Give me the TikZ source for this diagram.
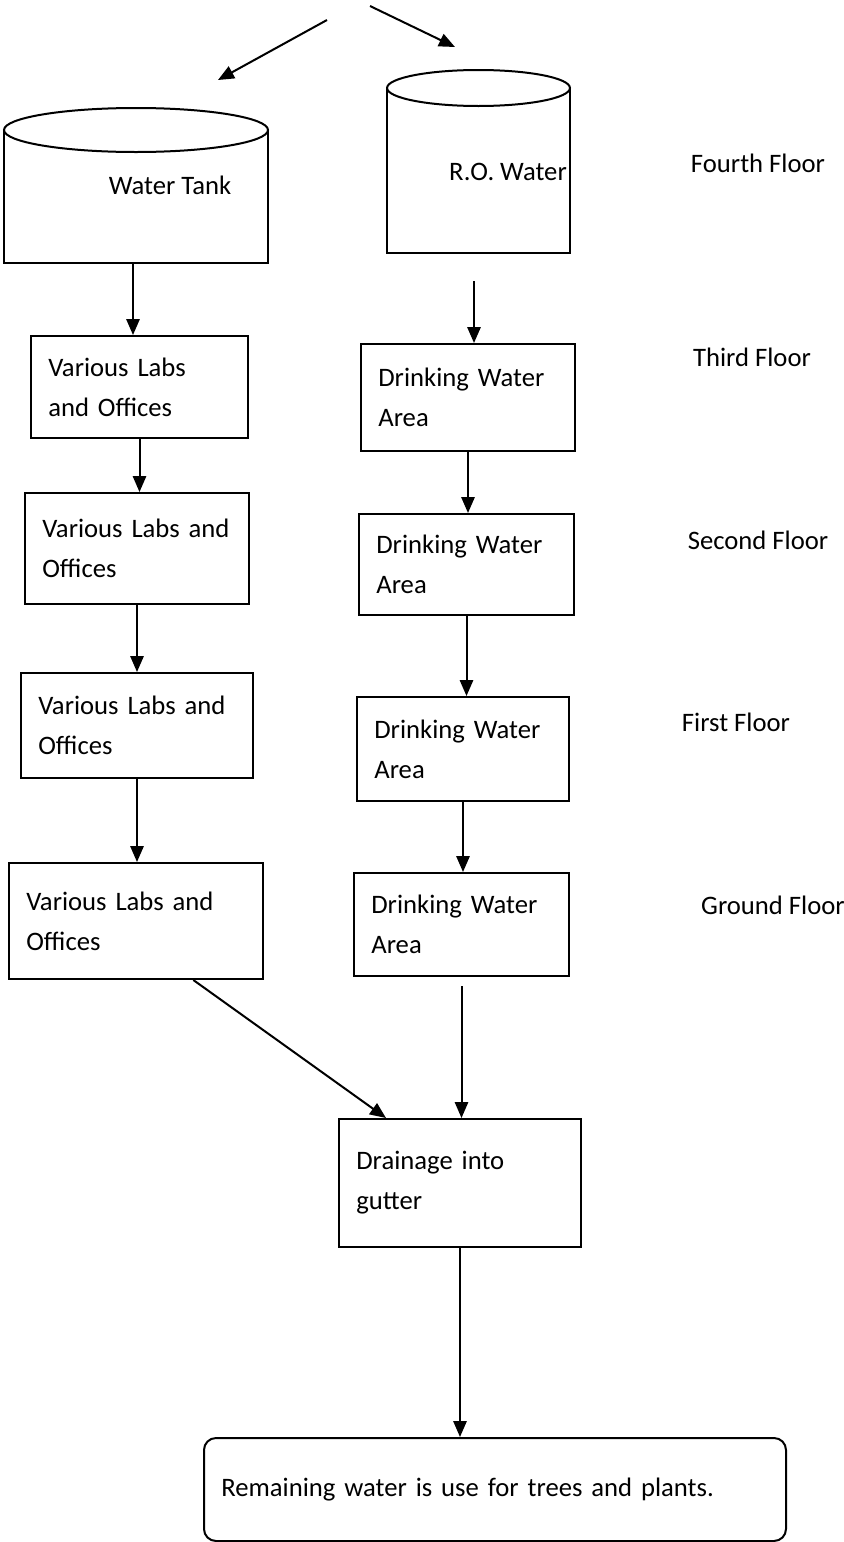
\documentclass[tikz,border=0pt]{standalone}
\usepackage{fontspec}
\setmainfont{Carlito}
\usetikzlibrary{arrows.meta}

\tikzset{
  flow/.style={-{Triangle[length=12pt,width=10pt]}, line width=1.5pt},
  box/.style={draw, line width=1.5pt, rectangle, anchor=north west, align=left,
    inner xsep=13pt, inner ysep=0pt, font=\fontsize{20}{30}\selectfont},
  txt/.style={font=\fontsize{20}{24}\selectfont}
}

\begin{document}
\begin{tikzpicture}[x=0.75pt, y=-0.75pt]
\useasboundingbox (0,0) rectangle (843,1542);

\def\tankbody{(4,130) -- (4,263) -- (268,263) -- (268,130)}
\def\tanktop{(136,130) ellipse [x radius=99pt, y radius=16.5pt]}
\def\robody{(387,88) -- (387,253) -- (570,253) -- (570,88)}
\def\rotop{(478.5,88) ellipse [x radius=68.6pt, y radius=13.5pt]}

% the two tanks on the fourth floor
\draw[line width=1.5pt] \tankbody;
\draw[line width=1.5pt, fill=white] \tanktop;
\draw[line width=1.5pt] \robody;
\draw[line width=1.5pt, fill=white] \rotop;

\node[txt] (tank) at (170,185) {Water Tank};
\node[txt] (ro) at (508,172) {R.O. Water};
\coordinate (tankbot) at (133,263);
\coordinate (robot) at (474,253);

\coordinate (srcL) at (327,20);
\coordinate (srcR) at (370,6);
\coordinate (inL) at (218,80);
\coordinate (inR) at (455,47);

% floors
\node[txt] (fourth) at (758,163) {Fourth Floor};
\node[txt] (third) at (752,357) {Third Floor};
\node[txt] (second) at (758,540) {Second Floor};
\node[txt] (first) at (736,722) {First Floor};
\node[txt] (ground) at (773,905) {Ground Floor};

% left column
\node[box, text width=136.75pt, minimum height=76.5pt] (lab1) at (30,335) {Various Labs\\and Offices};
\node[box, text width=142pt, minimum height=83.25pt] (lab2) at (24,492) {Various Labs and\\Offices};
\node[box, text width=148pt, minimum height=78.75pt] (lab3) at (20,672) {Various Labs and\\Offices};
\node[box, text width=164.5pt, minimum height=87pt] (lab4) at (8,862) {Various Labs and\\Offices};

% right column
\node[box, text width=134.5pt, minimum height=80.25pt] (drink1) at (360,343) {Drinking Water\\Area};
\node[box, text width=135.25pt, minimum height=75.75pt] (drink2) at (358,513) {Drinking Water\\Area};
\node[box, text width=133pt, minimum height=78pt] (drink3) at (356,696) {Drinking Water\\Area};
\node[box, text width=135.25pt, minimum height=77.25pt] (drink4) at (353,872) {Drinking Water\\Area};

\node[box, text width=155.5pt, minimum height=96pt] (drain) at (338,1118) {Drainage into\\gutter};
\node[box, rounded corners=9pt, text width=410.5pt, minimum height=77.25pt] (rest) at (203,1437) {Remaining water is use for trees and plants.};

\draw[flow] (srcL) -- (inL);
\draw[flow] (srcR) -- (inR);
\draw[flow] (tankbot) -- (tankbot |- lab1.north);
\draw[flow, shorten <=21pt] (robot) -- (robot |- drink1.north);
\draw[flow] (lab1.south) -- (lab1.south |- lab2.north);
\draw[flow] (lab2.south) -- (lab2.south |- lab3.north);
\draw[flow] (lab3.south) -- (lab3.south |- lab4.north);
\draw[flow] (drink1.south) -- (drink1.south |- drink2.north);
\draw[flow] (drink2.south) -- (drink2.south |- drink3.north);
\draw[flow] (drink3.south) -- (drink3.south |- drink4.north);
\draw[flow] ([xshift=43pt]lab4.south) -- ([xshift=-55.5pt]drain.north);
\draw[flow, shorten <=7pt] (drink4.south) -- (drink4.south |- drain.north);
\draw[flow] (drain.south) -- (drain.south |- rest.north);
\end{tikzpicture}
\end{document}
